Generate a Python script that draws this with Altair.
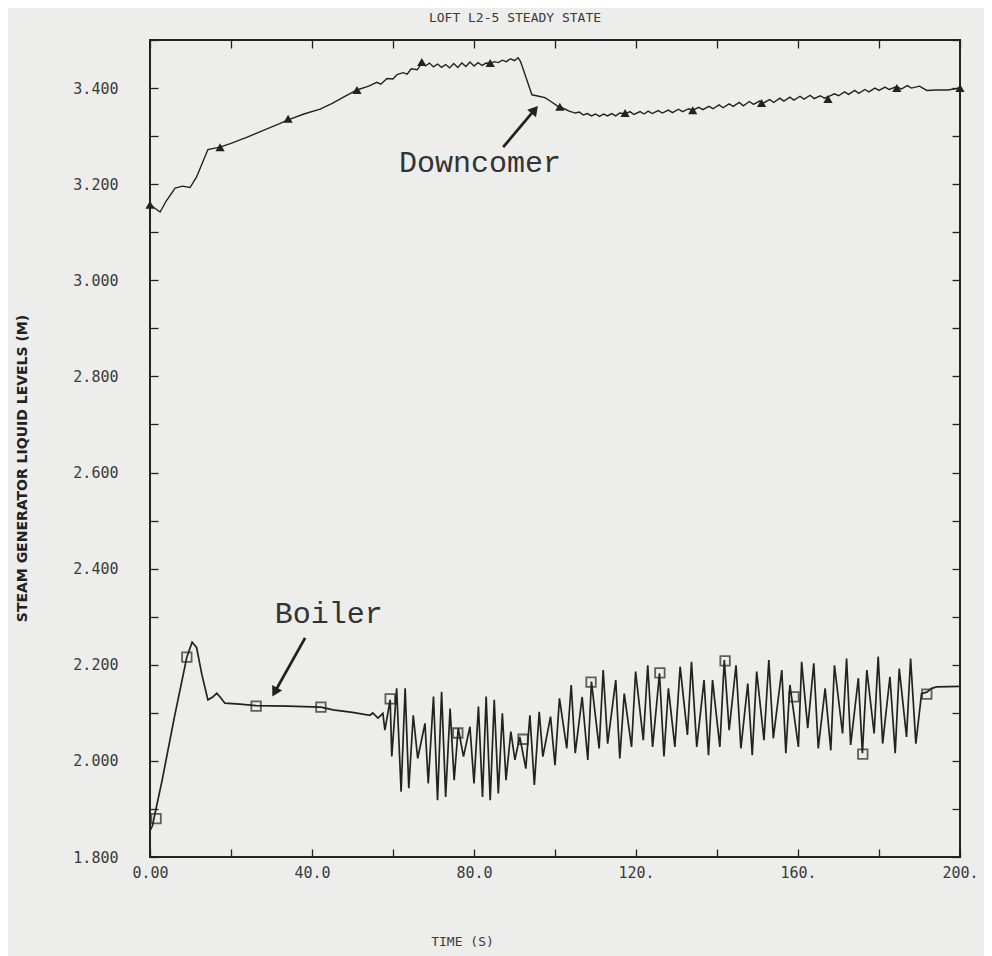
import altair as alt
import pandas as pd

W, H = 810, 817

# Downcomer level (m) vs time (s)
dc_t = [0, 1.2, 2.5, 4.0, 6.2, 8.0, 9.9, 11.5, 14.3, 17.3, 20, 24, 28, 32, 34.1, 38, 42, 45, 48, 51.1,
        54, 56, 57, 58.5, 60, 61, 62.5, 63.5, 64.5, 66, 67.1, 68, 69, 70, 71, 72, 73, 74, 75, 76, 77, 78,
        79, 80, 81, 82, 83, 84, 85, 86, 87, 88, 89, 90, 90.9, 91.5, 94.3, 96, 97.5, 99, 100.7, 102, 103.5,
        105, 106, 107, 108, 109, 110, 111, 112, 113, 114, 115, 116, 117.3, 118.5, 119.5, 121, 122, 123,
        124, 125.5, 126.5, 128, 129, 130.5, 131.5, 133, 134, 135.5, 136.5, 138, 139, 140.5, 141.5, 143,
        144, 145.5, 146.5, 148, 149, 150.5, 151.5, 153, 154, 155.5, 156.5, 158, 159, 160.5, 161.5, 163,
        164, 165.5, 166.5, 167.5, 169, 170, 171.5, 172.5, 174, 175, 176.5, 177.5, 179, 180, 181.5, 182.5,
        184.4, 185.5, 187, 188, 190, 191.8, 194, 197, 200]
dc_y = [3.157, 3.150, 3.142, 3.165, 3.192, 3.196, 3.193, 3.215, 3.272, 3.277, 3.285, 3.298, 3.312, 3.326,
        3.334, 3.346, 3.356, 3.368, 3.382, 3.396, 3.404, 3.412, 3.408, 3.420, 3.419, 3.428, 3.432, 3.429,
        3.440, 3.438, 3.452, 3.446, 3.452, 3.444, 3.450, 3.443, 3.449, 3.442, 3.451, 3.443, 3.452, 3.445,
        3.454, 3.446, 3.453, 3.447, 3.452, 3.451, 3.455, 3.453, 3.458, 3.455, 3.461, 3.457, 3.463, 3.455,
        3.386, 3.383, 3.380, 3.372, 3.362, 3.358, 3.352, 3.348, 3.350, 3.344, 3.347, 3.342, 3.346, 3.341,
        3.346, 3.342, 3.347, 3.342, 3.348, 3.346, 3.351, 3.345, 3.351, 3.346, 3.352, 3.347, 3.353, 3.348,
        3.354, 3.349, 3.356, 3.351, 3.357, 3.354, 3.360, 3.355, 3.362, 3.357, 3.365, 3.359, 3.367, 3.362,
        3.370, 3.363, 3.372, 3.366, 3.373, 3.369, 3.376, 3.370, 3.379, 3.373, 3.381, 3.375, 3.383, 3.377,
        3.385, 3.378, 3.384, 3.379, 3.382, 3.388, 3.384, 3.392, 3.387, 3.395, 3.389, 3.397, 3.392, 3.400,
        3.395, 3.402, 3.397, 3.403, 3.398, 3.405, 3.400, 3.404, 3.395, 3.396, 3.396, 3.400]

dc_mark_t = [0, 17.3, 34.1, 51.1, 67.1, 84, 101.2, 117.3, 134, 151, 167.4, 184.4, 200]
dc_mark_y = [3.157, 3.277, 3.336, 3.396, 3.454, 3.452, 3.361, 3.348, 3.354, 3.369, 3.377, 3.400, 3.400]

# Boiler level (m) vs time (s)
bo_t = [0.0, 0.6, 3.0, 6.0, 9.1, 10.4, 11.5, 12.8, 14.3, 15.5, 16.5, 17.5, 18.5, 22.2, 26.2, 34.0, 42.2,
        45.2, 50.0, 54.3, 55.0, 56.3, 57.5, 58.0, 59.3, 59.7, 60.9, 62.0, 63.0, 63.9, 65.0, 66.1, 67.9,
        68.7, 70.0, 71.0, 72.0, 73.0, 74.1, 75.1, 76.1, 77.4, 79.0, 80.0, 81.1, 82.1, 83.0, 84.0, 85.0,
        86.0, 87.0, 87.9, 89.1, 90.1, 91.3, 92.8, 93.8, 94.9, 96.1, 97.0, 98.9, 100.0, 101.1, 102.9, 104.0,
        105.0, 106.7, 108.1, 109.0, 110.9, 111.9, 113.0, 115.0, 116.0, 117.1, 118.9, 119.9, 121.8, 122.9,
        124.1, 125.8, 126.9, 128.0, 129.6, 130.9, 132.7, 133.7, 135.0, 136.8, 137.9, 138.9, 140.7, 141.8,
        143.0, 144.7, 145.9, 147.6, 148.7, 149.8, 151.6, 152.8, 153.9, 156.0, 157.0, 158.0, 160.1, 160.9,
        162.4, 163.9, 165.0, 166.7, 168.1, 169.0, 171.0, 172.0, 173.0, 174.9, 175.9, 177.0, 178.8, 179.8,
        180.9, 182.7, 184.0, 185.0, 186.8, 187.8, 189.1, 190.5, 191.8, 193.0, 194.2, 200.0]
bo_y = [1.855, 1.865, 1.960, 2.090, 2.216, 2.247, 2.236, 2.180, 2.127, 2.133, 2.141, 2.131, 2.120, 2.118,
        2.115, 2.114, 2.112, 2.106, 2.101, 2.095, 2.100, 2.089, 2.099, 2.064, 2.127, 2.009, 2.151, 1.936,
        2.151, 1.943, 2.095, 2.005, 2.078, 1.953, 2.134, 1.918, 2.144, 1.925, 2.109, 1.960, 2.068, 2.009,
        2.071, 1.953, 2.113, 1.925, 2.134, 1.918, 2.127, 1.932, 2.099, 1.960, 2.061, 2.002, 2.050, 1.984,
        2.095, 1.950, 2.102, 2.009, 2.092, 1.991, 2.130, 2.026, 2.158, 2.016, 2.133, 2.002, 2.165, 2.026,
        2.189, 2.036, 2.168, 2.005, 2.140, 2.029, 2.186, 2.043, 2.199, 2.029, 2.182, 2.009, 2.151, 2.029,
        2.196, 2.054, 2.206, 2.029, 2.168, 2.012, 2.168, 2.029, 2.210, 2.064, 2.199, 2.026, 2.161, 2.012,
        2.186, 2.043, 2.210, 2.047, 2.189, 2.016, 2.158, 2.029, 2.206, 2.068, 2.203, 2.026, 2.151, 2.022,
        2.199, 2.057, 2.213, 2.033, 2.172, 2.016, 2.189, 2.057, 2.217, 2.036, 2.175, 2.016, 2.192, 2.050,
        2.213, 2.036, 2.140, 2.143, 2.151, 2.154, 2.155]

bo_mark_t = [1.5, 9.1, 26.2, 42.2, 59.3, 76.0, 92.1, 108.9, 125.9, 142.0, 159.0, 176.0, 191.8]
bo_mark_y = [1.880, 2.216, 2.114, 2.112, 2.129, 2.058, 2.045, 2.164, 2.183, 2.208, 2.133, 2.014, 2.139]

# Annotations
ann_text = ["Downcomer", "Boiler"]
ann_t = [61.5, 30.8]
ann_y = [3.244, 2.305]
arr_t0 = [87.2, 38.3]
arr_y0 = [3.277, 2.256]
arr_t1 = [95.0, 30.8]
arr_y1 = [3.355, 2.143]
arr_angle = [40, 209]

x_ticks = list(range(0, 201, 20))
x_labels = [0, 40, 80, 120, 160, 200]
y_ticks = [1.8, 1.9, 2.0, 2.1, 2.2, 2.3, 2.4, 2.5, 2.6, 2.7, 2.8, 2.9, 3.0, 3.1, 3.2, 3.3, 3.4, 3.5]
y_labels = [1.8, 2.0, 2.2, 2.4, 2.6, 2.8, 3.0, 3.2, 3.4]

INK = "#222222"
LBL = "#3a3a3a"
MONO = "DejaVu Sans Mono"

dc = pd.DataFrame({"t": dc_t, "y": dc_y})
dcm = pd.DataFrame({"t": dc_mark_t, "y": dc_mark_y})
bo = pd.DataFrame({"t": bo_t, "y": bo_y})
bom = pd.DataFrame({"t": bo_mark_t, "y": bo_mark_y})
ann = pd.DataFrame({"t": ann_t, "y": ann_y, "label": ann_text})
arr = pd.DataFrame({"t0": arr_t0, "y0": arr_y0, "t1": arr_t1, "y1": arr_y1, "ang": arr_angle})

xs = alt.Scale(domain=[0, 200], nice=False, zero=False)
ys = alt.Scale(domain=[1.8, 3.5], nice=False, zero=False)

tick_common = dict(labels=False, tickSize=8, tickWidth=1.3, tickColor=INK, domain=False, grid=False, title=None)

ax_x_main = alt.Axis(orient="bottom", values=x_labels, tickSize=0, domain=False, grid=False, labelFlush=False,
                     labelExpr="datum.value == 0 ? '0.00' : (datum.value < 100 ? format(datum.value, '.1f') : datum.value + '.')",
                     labelFont=MONO, labelFontSize=15, labelColor=LBL, labelPadding=8,
                     title="TIME (S)", titleFont=MONO, titleFontSize=13, titleFontWeight="normal",
                     titleColor=LBL, titleX=312, titleY=84, titleBaseline="middle", titleAlign="center")
ax_y_main = alt.Axis(orient="left", values=y_labels, format=".3f", tickSize=0, domain=False, grid=False,
                     labelFlush=False,
                     labelFont=MONO, labelFontSize=15, labelColor=LBL, labelPadding=32,
                     title="STEAM GENERATOR LIQUID LEVELS (M)", titleFont="DejaVu Sans",
                     titleFontSize=14, titleFontWeight="bold", titleColor=INK,
                     titleX=-128, titleY=428, titleAngle=270, titleBaseline="middle", titleAlign="center")
ax_x_bot_in = alt.Axis(orient="top", offset=-H, values=x_ticks, **tick_common)
ax_x_top_in = alt.Axis(orient="bottom", offset=-H, values=x_ticks, **tick_common)
ax_y_left_in = alt.Axis(orient="right", offset=-W, values=y_ticks, **tick_common)
ax_y_right_in = alt.Axis(orient="left", offset=-W, values=y_ticks, **tick_common)

boiler_line = alt.Chart(bo).mark_line(color=INK, strokeWidth=1.7).encode(
    x=alt.X("t:Q", scale=xs, axis=ax_x_main),
    y=alt.Y("y:Q", scale=ys, axis=ax_y_main),
)
dc_line = alt.Chart(dc).mark_line(color=INK, strokeWidth=1.4).encode(
    x=alt.X("t:Q", scale=xs, axis=ax_x_bot_in),
    y=alt.Y("y:Q", scale=ys, axis=ax_y_left_in),
)
bo_marks = alt.Chart(bom).mark_point(shape="square", filled=False, color=INK, size=90, strokeWidth=1.8).encode(
    x=alt.X("t:Q", scale=xs, axis=ax_x_top_in),
    y=alt.Y("y:Q", scale=ys, axis=ax_y_right_in),
)
dc_marks = alt.Chart(dcm).mark_point(shape="triangle-up", filled=True, color=INK, size=85, opacity=1).encode(
    x=alt.X("t:Q", scale=xs, axis=None),
    y=alt.Y("y:Q", scale=ys, axis=None),
)
labels = alt.Chart(ann).mark_text(font="Liberation Mono", fontSize=30, color="#333333",
                                  align="left", baseline="middle").encode(
    x=alt.X("t:Q", scale=xs, axis=None),
    y=alt.Y("y:Q", scale=ys, axis=None),
    text="label:N",
)
arrow_lines = alt.Chart(arr).mark_rule(color=INK, strokeWidth=2.8).encode(
    x=alt.X("t0:Q", scale=xs, axis=None),
    y=alt.Y("y0:Q", scale=ys, axis=None),
    x2="t1:Q",
    y2="y1:Q",
)
arrow_heads = alt.Chart(arr).mark_point(shape="triangle-up", filled=True, color=INK, size=130, opacity=1).encode(
    x=alt.X("t1:Q", scale=xs, axis=None),
    y=alt.Y("y1:Q", scale=ys, axis=None),
    angle=alt.Angle("ang:Q", scale=None),
)

chart = alt.layer(
    boiler_line, dc_line, bo_marks, dc_marks, labels, arrow_lines, arrow_heads
).resolve_axis(x="independent", y="independent").properties(
    width=W, height=H,
    autosize=alt.AutoSizeParams(type="none"),
    padding={"left": 142, "top": 32, "right": 24, "bottom": 100},
    background="#ededeb",
    title=alt.TitleParams("LOFT L2-5 STEADY STATE", font=MONO, fontSize=13, fontWeight="normal",
                          color=LBL, anchor="middle", dx=-40, offset=14),
).configure_view(stroke=INK, strokeWidth=2)

chart.save("out.html", embed_options={"renderer": "svg", "actions": False})
